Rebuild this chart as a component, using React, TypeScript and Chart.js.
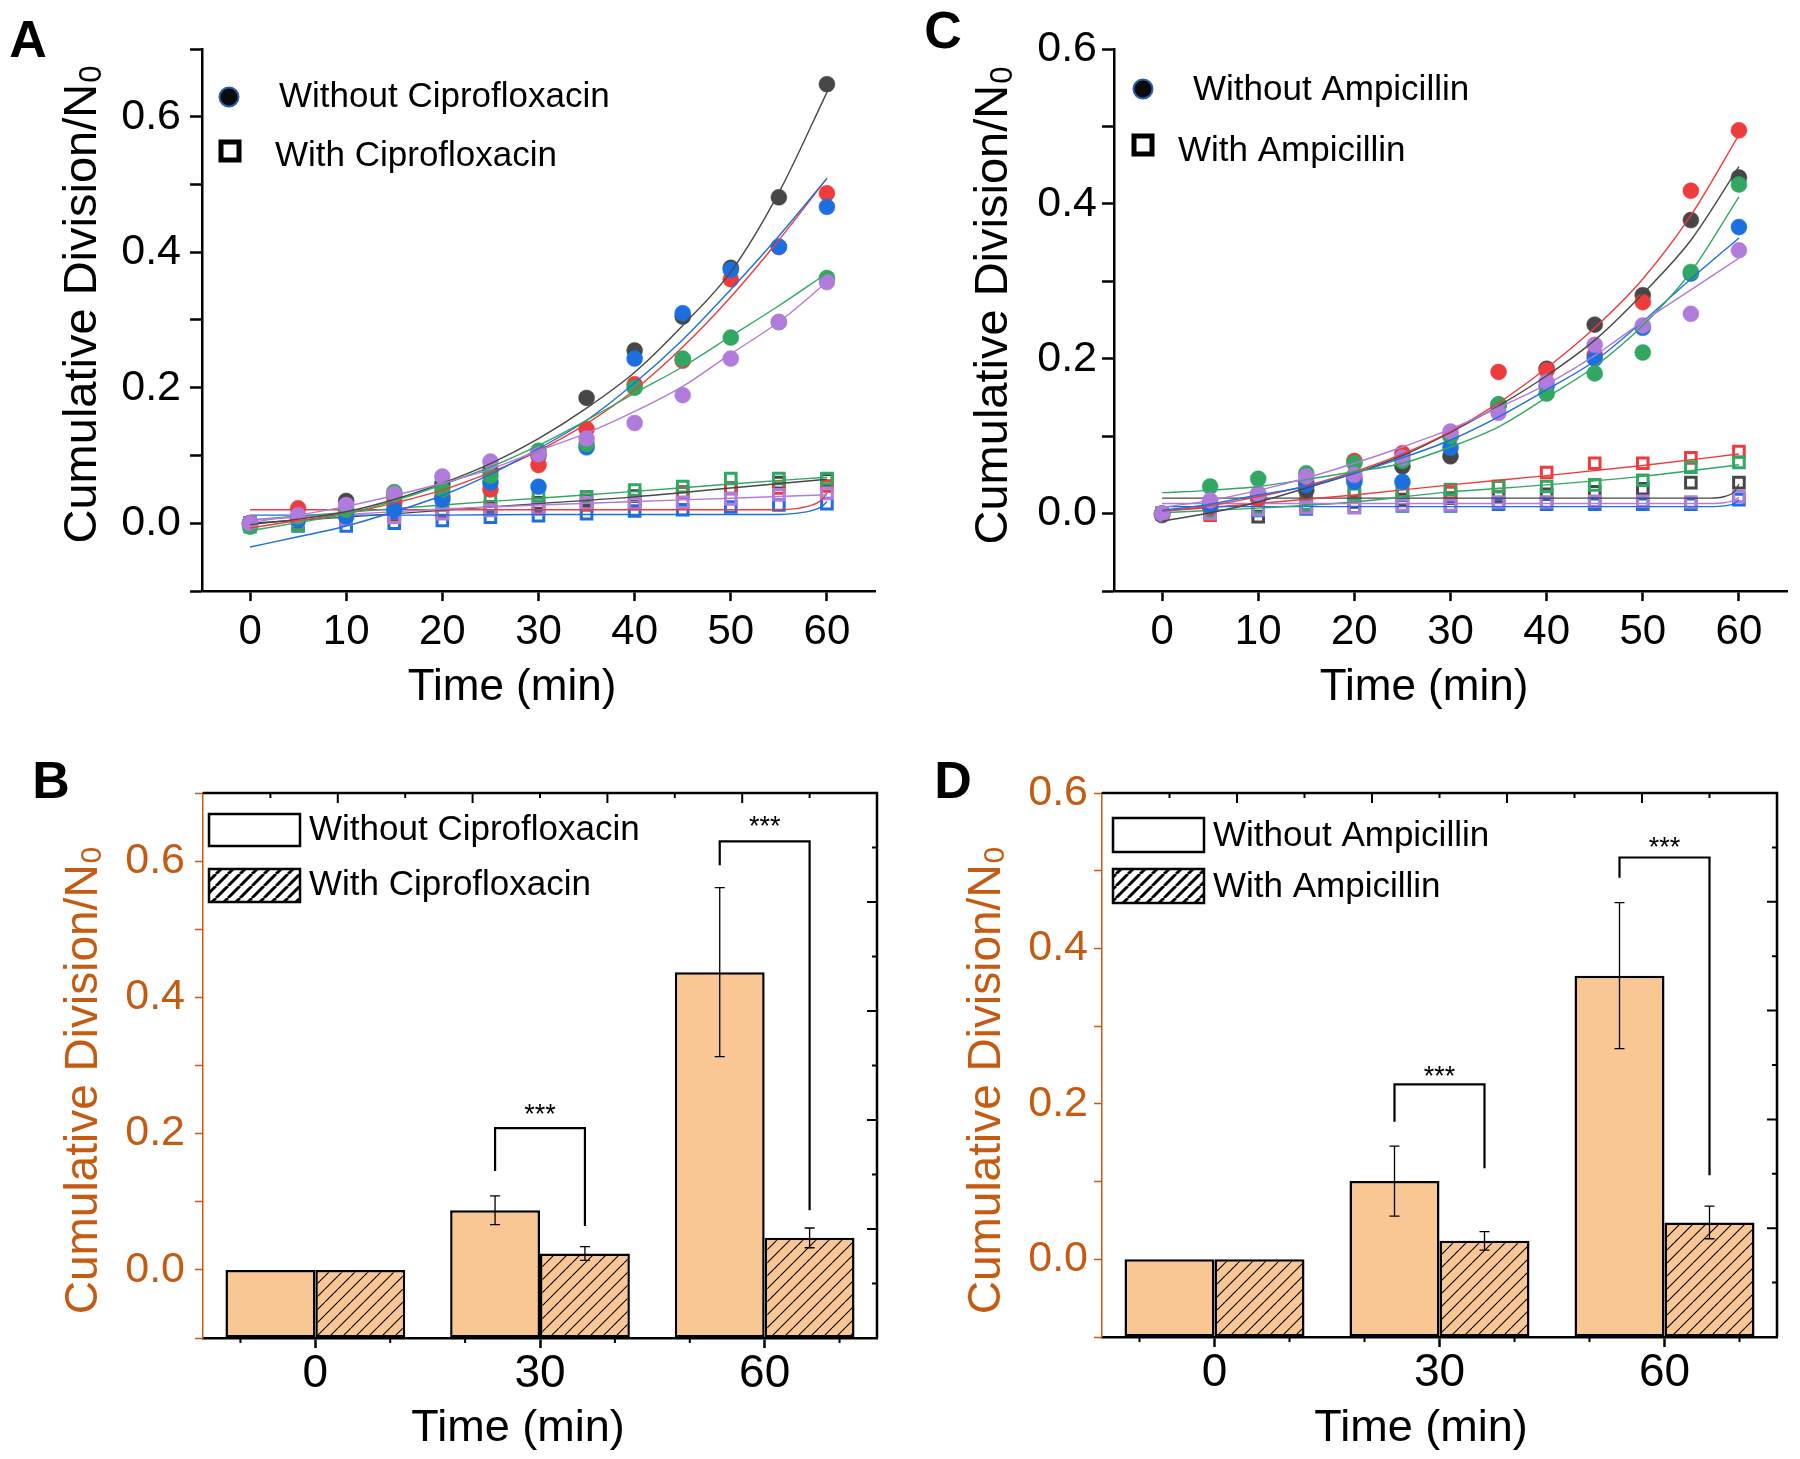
import React, { useEffect, useRef } from 'react';
import { Chart, registerables } from 'chart.js';

Chart.register(...registerables);

const FONT = "'Liberation Sans', Arial, Helvetica, sans-serif";
Chart.defaults.font.family = FONT;

const ORANGE = '#c55a11';
const BAR_FILL = '#f8c794';
const SERIES_COLORS = ['#474747', '#ee3b3b', '#1c6fdf', '#30a862', '#b07bdb'];

// ---------- shared axes ----------
const TIME = [0, 5, 10, 15, 20, 25, 30, 35, 40, 45, 50, 55, 60];
const TIME_TICKS = [0, 10, 20, 30, 40, 50, 60];
const Y_TICKS_07 = [-0.1, 0, 0.1, 0.2, 0.3, 0.4, 0.5, 0.6, 0.7];
const Y_TICKS_06 = [-0.1, 0, 0.1, 0.2, 0.3, 0.4, 0.5, 0.6];

// ---------- Panel A : without ciprofloxacin (filled circles) ----------
const A_NO_BLACK = [0.0, 0.008, 0.033, 0.04, 0.058, 0.078, 0.1, 0.185, 0.255, 0.305, 0.377, 0.481, 0.648];
const A_NO_RED = [0.0, 0.022, 0.017, 0.03, 0.04, 0.05, 0.086, 0.139, 0.205, 0.24, 0.36, 0.408, 0.487];
const A_NO_BLUE = [0.0, 0.005, 0.01, 0.02, 0.035, 0.06, 0.054, 0.112, 0.243, 0.31, 0.374, 0.408, 0.467];
const A_NO_GREEN = [-0.005, 0.01, 0.02, 0.046, 0.05, 0.07, 0.107, 0.117, 0.2, 0.243, 0.274, 0.297, 0.362];
const A_NO_PURPLE = [0.0, 0.012, 0.027, 0.043, 0.069, 0.091, 0.102, 0.125, 0.148, 0.189, 0.243, 0.297, 0.356];
// with ciprofloxacin (open squares)
const A_W_BLACK = [0.0, 0.002, 0.006, 0.012, 0.018, 0.024, 0.03, 0.034, 0.04, 0.046, 0.052, 0.06, 0.064];
const A_W_RED = [0.0, 0.004, 0.01, 0.014, 0.018, 0.02, 0.024, 0.027, 0.032, 0.045, 0.051, 0.052, 0.055];
const A_W_BLUE = [0.0, -0.004, -0.004, 0.0, 0.004, 0.009, 0.011, 0.014, 0.018, 0.02, 0.024, 0.027, 0.029];
const A_W_GREEN = [-0.005, -0.003, 0.015, 0.027, 0.027, 0.034, 0.041, 0.039, 0.049, 0.054, 0.066, 0.066, 0.066];
const A_W_PURPLE = [0.0, 0.005, 0.006, 0.009, 0.014, 0.019, 0.021, 0.029, 0.029, 0.031, 0.036, 0.042, 0.044];
// fitted curves (read at TIME)
const A_FIT_BLACK = [-0.002, 0.006, 0.017, 0.035, 0.059, 0.088, 0.125, 0.17, 0.223, 0.292, 0.371, 0.488, 0.636];
const A_FIT_RED = [-0.007, 0.004, 0.014, 0.03, 0.049, 0.075, 0.107, 0.147, 0.197, 0.26, 0.334, 0.418, 0.509];
const A_FIT_BLUE = [-0.035, -0.02, -0.004, 0.017, 0.041, 0.072, 0.11, 0.152, 0.207, 0.271, 0.345, 0.424, 0.509];
const A_FIT_GREEN = [-0.011, 0.001, 0.014, 0.033, 0.057, 0.083, 0.115, 0.152, 0.192, 0.231, 0.276, 0.321, 0.369];
const A_FIT_PURPLE = [0.001, 0.012, 0.025, 0.041, 0.059, 0.08, 0.107, 0.133, 0.165, 0.202, 0.25, 0.297, 0.356];
// fitted curves of squares
const A_SQFIT_X = [0, 10, 20, 30, 40, 50, 60];
const A_SQFIT_BLACK = [0.0, 0.009, 0.019, 0.029, 0.039, 0.052, 0.065];
const A_SQFIT_GREEN = [0.005, 0.016, 0.027, 0.037, 0.047, 0.058, 0.068];
const A_SQFIT_PURPLE = [0.005, 0.013, 0.021, 0.027, 0.032, 0.037, 0.042];
const A_HOOK_X = [0, 10, 20, 30, 40, 50, 55, 57, 58.5, 59.5, 60];
const A_SQFIT_RED = [0.02, 0.02, 0.02, 0.02, 0.02, 0.02, 0.02, 0.022, 0.027, 0.035, 0.045];
const A_SQFIT_BLUE = [0.012, 0.012, 0.012, 0.013, 0.013, 0.013, 0.013, 0.015, 0.019, 0.025, 0.032];

// ---------- Panel C : without ampicillin (filled circles) ----------
const C_NO_BLACK = [-0.002, 0.01, 0.02, 0.03, 0.045, 0.061, 0.074, 0.14, 0.187, 0.244, 0.282, 0.379, 0.434];
const C_NO_RED = [0.0, 0.008, 0.02, 0.04, 0.068, 0.078, 0.1, 0.183, 0.185, 0.205, 0.273, 0.417, 0.495];
const C_NO_BLUE = [0.0, 0.01, 0.025, 0.037, 0.041, 0.041, 0.085, 0.141, 0.165, 0.2, 0.24, 0.31, 0.37];
const C_NO_GREEN = [0.0, 0.035, 0.045, 0.052, 0.065, 0.068, 0.1, 0.141, 0.155, 0.181, 0.208, 0.312, 0.425];
const C_NO_PURPLE = [0.0, 0.017, 0.026, 0.048, 0.05, 0.072, 0.106, 0.13, 0.17, 0.218, 0.243, 0.258, 0.34];
// with ampicillin (open squares)
const C_W_BLACK = [0.0, 0.004, -0.004, 0.01, 0.015, 0.018, 0.02, 0.022, 0.025, 0.028, 0.032, 0.04, 0.04];
const C_W_RED = [0.0, -0.002, 0.005, 0.027, 0.027, 0.027, 0.027, 0.035, 0.053, 0.065, 0.065, 0.072, 0.08];
const C_W_BLUE = [0.0, 0.002, 0.004, 0.006, 0.008, 0.01, 0.01, 0.012, 0.012, 0.012, 0.012, 0.012, 0.018];
const C_W_GREEN = [0.0, 0.003, 0.008, 0.012, 0.025, 0.027, 0.031, 0.035, 0.035, 0.037, 0.043, 0.06, 0.066];
const C_W_PURPLE = [0.0, 0.0, 0.005, 0.008, 0.008, 0.011, 0.011, 0.015, 0.015, 0.016, 0.016, 0.015, 0.022];
// fitted curves
const C_FIT_BLACK = [-0.01, 0.001, 0.015, 0.033, 0.052, 0.075, 0.105, 0.139, 0.178, 0.224, 0.284, 0.353, 0.448];
const C_FIT_RED = [0.003, 0.01, 0.022, 0.036, 0.054, 0.077, 0.106, 0.143, 0.188, 0.24, 0.303, 0.385, 0.489];
const C_FIT_BLUE = [0.004, 0.012, 0.024, 0.035, 0.052, 0.072, 0.095, 0.125, 0.16, 0.197, 0.248, 0.303, 0.356];
const C_FIT_GREEN = [0.027, 0.03, 0.035, 0.044, 0.054, 0.065, 0.086, 0.112, 0.15, 0.19, 0.243, 0.312, 0.409];
const C_FIT_PURPLE = [0.008, 0.017, 0.03, 0.046, 0.065, 0.086, 0.109, 0.137, 0.167, 0.204, 0.248, 0.289, 0.33];
const C_SQFIT_X = [0, 10, 20, 30, 40, 50, 60];
const C_SQFIT_RED = [0.003, 0.013, 0.024, 0.037, 0.049, 0.062, 0.077];
const C_SQFIT_GREEN = [0.001, 0.007, 0.015, 0.028, 0.037, 0.048, 0.063];
const C_HOOK_X = [0, 10, 20, 30, 40, 50, 57, 58.5, 59.5, 60];
const C_SQFIT_BLACK = [0.02, 0.02, 0.02, 0.02, 0.02, 0.02, 0.02, 0.022, 0.028, 0.038];
const C_SQFIT_PURPLE = [0.013, 0.013, 0.013, 0.013, 0.013, 0.013, 0.013, 0.014, 0.017, 0.021];
const C_SQFIT_BLUE = [0.009, 0.009, 0.009, 0.009, 0.009, 0.009, 0.009, 0.01, 0.013, 0.018];

// ---------- Panel B : bars, ciprofloxacin ----------
const BAR_CATS = ['0', '30', '60'];
const B_WITHOUT = [0, 0.0875, 0.437];
const B_WITHOUT_ERR = [0, 0.021, 0.124];
const B_WITH = [0, 0.024, 0.047];
const B_WITH_ERR = [0, 0.01, 0.0145];
const B_SIG_CATS = [1, 2];
const B_SIG_LEFT = [0.145, 0.594];
const B_SIG_TOP = [0.208, 0.629];
const B_SIG_RIGHT = [0.0645, 0.0875];
const B_SIG_STAR = [0.2375, 0.66];

// ---------- Panel D : bars, ampicillin ----------
const D_WITHOUT = [0, 0.1006, 0.365];
const D_WITHOUT_ERR = [0, 0.045, 0.094];
const D_WITH = [0, 0.0237, 0.0474];
const D_WITH_ERR = [0, 0.012, 0.021];
const D_SIG_CATS = [1, 2];
const D_SIG_LEFT = [0.177, 0.4908];
const D_SIG_TOP = [0.225, 0.517];
const D_SIG_RIGHT = [0.117, 0.108];
const D_SIG_STAR = [0.244, 0.5376];

// ---------- helpers ----------
type Area = { left: number; right: number; top: number; bottom: number };

const toXY = (xs: number[], ys: number[]) => xs.map((x, i) => ({ x, y: ys[i] }));

function yTickLabel(v: number) {
  const k = Math.round(v * 10);
  if (k < 0 || k % 2 !== 0) return '';
  return (k / 10).toFixed(1);
}

function fixTicks(values: number[]) {
  return (scale: any) => {
    scale.ticks = values.map((v) => ({ value: v }));
  };
}

function drawText(ctx: CanvasRenderingContext2D, text: string, x: number, y: number, font: string, color: string, align: CanvasTextAlign = 'left', baseline: CanvasTextBaseline = 'middle') {
  ctx.save();
  ctx.font = font;
  ctx.fillStyle = color;
  ctx.textAlign = align;
  ctx.textBaseline = baseline;
  ctx.fillText(text, x, y);
  ctx.restore();
}

function drawYTitle(ctx: CanvasRenderingContext2D, cx: number, cy: number, size: number, color: string) {
  const main = 'Cumulative Division/N';
  const mainFont = `${size}px ${FONT}`;
  const subFont = `${Math.round(size * 0.66)}px ${FONT}`;
  ctx.save();
  ctx.translate(cx, cy);
  ctx.rotate(-Math.PI / 2);
  ctx.font = mainFont;
  const w1 = ctx.measureText(main).width;
  ctx.font = subFont;
  const w2 = ctx.measureText('0').width;
  const start = -(w1 + w2) / 2;
  ctx.fillStyle = color;
  ctx.textAlign = 'left';
  ctx.textBaseline = 'middle';
  ctx.font = mainFont;
  ctx.fillText(main, start, 0);
  ctx.font = subFont;
  ctx.fillText('0', start + w1 + 1, size * 0.2);
  ctx.restore();
}

function makeHatch(ctx: CanvasRenderingContext2D, size: number, bg: string, lw: number) {
  const c = document.createElement('canvas');
  c.width = size;
  c.height = size;
  const g = c.getContext('2d') as CanvasRenderingContext2D;
  g.fillStyle = bg;
  g.fillRect(0, 0, size, size);
  g.strokeStyle = '#000';
  g.lineWidth = lw;
  g.beginPath();
  for (const k of [-1, 0, 1]) {
    g.moveTo(k * size, size);
    g.lineTo(k * size + size, 0);
  }
  g.stroke();
  return ctx.createPattern(c, 'repeat');
}

// ---------- scatter panels (A, C) ----------
type ScatterSpec = {
  id: string;
  w: number;
  h: number;
  area: Area;
  yMax: number;
  yTicks: number[];
  yTickPad: number;
  circles: number[][];
  squares: number[][];
  fits: { x: number[]; y: number[] }[];
  sqFits: { x: number[]; y: number[] }[];
  letter: [string, number, number];
  yTitle: [number, number];
  xTitle: [number, number];
  legendLabels: [string, string];
  legendCircle: [number, number];
  legendText1: [number, number];
  legendSquare: [number, number];
  legendText2: [number, number];
};

function lineDataset(f: { x: number[]; y: number[] }, i: number, order: number) {
  return {
    data: toXY(f.x, f.y),
    showLine: true,
    borderColor: SERIES_COLORS[i],
    borderWidth: 1.4,
    pointRadius: 0,
    fill: false,
    cubicInterpolationMode: 'monotone',
    order,
  };
}

function buildScatter(spec: ScatterSpec) {
  return (canvas: HTMLCanvasElement) => {
    const datasets: any[] = [];
    spec.squares.forEach((ys, i) =>
      datasets.push({
        data: toXY(TIME, ys),
        showLine: false,
        pointStyle: 'rect',
        pointRadius: 7.5,
        pointBorderWidth: 3,
        pointBorderColor: SERIES_COLORS[i],
        pointBackgroundColor: 'rgba(255,255,255,0)',
        borderColor: SERIES_COLORS[i],
        order: 50 - i,
      })
    );
    spec.sqFits.forEach((f, i) => datasets.push(lineDataset(f, i, 40 - i)));
    spec.circles.forEach((ys, i) =>
      datasets.push({
        data: toXY(TIME, ys),
        showLine: false,
        pointStyle: 'circle',
        pointRadius: 8,
        pointBorderWidth: 0.5,
        pointBorderColor: SERIES_COLORS[i],
        pointBackgroundColor: SERIES_COLORS[i],
        borderColor: SERIES_COLORS[i],
        order: 30 - i,
      })
    );
    spec.fits.forEach((f, i) => datasets.push(lineDataset(f, i, 20 - i)));

    const decor = {
      id: 'decor' + spec.id,
      afterDraw(chart: any) {
        const ctx: CanvasRenderingContext2D = chart.ctx;
        drawText(ctx, spec.letter[0], spec.letter[1], spec.letter[2], `bold 52px ${FONT}`, '#000', 'center', 'alphabetic');
        drawYTitle(ctx, spec.yTitle[0], spec.yTitle[1], 47, '#000');
        drawText(ctx, 'Time (min)', spec.xTitle[0], spec.xTitle[1], `44px ${FONT}`, '#000', 'center');
        // legend
        ctx.save();
        ctx.beginPath();
        ctx.arc(spec.legendCircle[0], spec.legendCircle[1], 9.5, 0, Math.PI * 2);
        ctx.fillStyle = '#0b0b0b';
        ctx.fill();
        ctx.lineWidth = 2;
        ctx.strokeStyle = '#2a5db0';
        ctx.stroke();
        ctx.lineWidth = 5;
        ctx.strokeStyle = '#000';
        ctx.fillStyle = '#fff';
        ctx.beginPath();
        ctx.rect(spec.legendSquare[0] - 9, spec.legendSquare[1] - 9, 18, 18);
        ctx.fill();
        ctx.stroke();
        ctx.restore();
        drawText(ctx, spec.legendLabels[0], spec.legendText1[0], spec.legendText1[1], `35px ${FONT}`, '#000');
        drawText(ctx, spec.legendLabels[1], spec.legendText2[0], spec.legendText2[1], `35px ${FONT}`, '#000');
      },
    };

    return {
      type: 'line',
      data: { datasets },
      options: {
        responsive: false,
        animation: false,
        devicePixelRatio: 1,
        events: [],
        layout: { padding: { left: 0, top: spec.area.top, right: spec.w - spec.area.right, bottom: 0 } },
        plugins: { legend: { display: false }, tooltip: { enabled: false } },
        scales: {
          x: {
            type: 'linear',
            min: -5,
            max: 65,
            afterBuildTicks: fixTicks(TIME_TICKS),
            afterFit: (s: any) => {
              s.height = spec.h - spec.area.bottom;
            },
            ticks: { font: { family: FONT, size: 42, lineHeight: 1 }, color: '#000', padding: 10, maxRotation: 0, autoSkip: false, callback: (v: any) => String(v) },
            grid: { drawOnChartArea: false, drawTicks: true, tickLength: 10, tickWidth: 2.5, tickColor: '#000' },
            border: { display: true, color: '#000', width: 2.5 },
          },
          y: {
            type: 'linear',
            min: -0.1,
            max: spec.yMax,
            afterBuildTicks: fixTicks(spec.yTicks),
            afterFit: (s: any) => {
              s.width = spec.area.left;
            },
            ticks: { font: { family: FONT, size: 43, lineHeight: 1 }, color: '#000', padding: spec.yTickPad, autoSkip: false, callback: (v: any) => yTickLabel(Number(v)) },
            grid: { drawOnChartArea: false, drawTicks: true, tickLength: 12, tickWidth: 2.5, tickColor: '#000' },
            border: { display: true, color: '#000', width: 2.5 },
          },
        },
      },
      plugins: [decor],
    };
  };
}

// ---------- bar panels (B, D) ----------
type BarSpec = {
  id: string;
  w: number;
  h: number;
  area: Area;
  yMax: number;
  yTicks: number[];
  yTickPad: number;
  without: number[];
  withAb: number[];
  withoutErr: number[];
  withErr: number[];
  sigCats: number[];
  sigLeft: number[];
  sigTop: number[];
  sigRight: number[];
  sigStar: number[];
  letter: [string, number, number];
  yTitle: [number, number];
  xTitle: [number, number];
  legendLabels: [string, string];
  legendBox1: [number, number, number, number];
  legendBox2: [number, number, number, number];
  legendTextX: number;
  legendTextY: [number, number];
};

function buildBars(spec: BarSpec) {
  return (canvas: HTMLCanvasElement) => {
    const ctx0 = canvas.getContext('2d') as CanvasRenderingContext2D;
    const barHatch = makeHatch(ctx0, 13, BAR_FILL, 1.1);
    const legendHatch = makeHatch(ctx0, 12, '#ffffff', 3);

    const decor = {
      id: 'bars' + spec.id,
      afterDraw(chart: any) {
        const ctx: CanvasRenderingContext2D = chart.ctx;
        const a = chart.chartArea;
        const ys = chart.scales.y;
        const xs = chart.scales.x;
        ctx.save();
        // frame (top + right) with inward ticks
        ctx.strokeStyle = '#000';
        ctx.lineWidth = 2.5;
        ctx.beginPath();
        ctx.moveTo(a.left, a.top);
        ctx.lineTo(a.right, a.top);
        ctx.lineTo(a.right, a.bottom);
        ctx.stroke();
        ctx.lineWidth = 2;
        ctx.beginPath();
        for (let k = 1; k < 10; k++) {
          const len = k % 2 === 0 ? 10 : 5;
          const x = a.left + ((a.right - a.left) * k) / 10;
          ctx.moveTo(x, a.top);
          ctx.lineTo(x, a.top + len);
          const y = a.top + ((a.bottom - a.top) * k) / 10;
          ctx.moveTo(a.right, y);
          ctx.lineTo(a.right - len, y);
        }
        const step = xs.getPixelForValue(1) - xs.getPixelForValue(0);
        for (let i = 0; i < BAR_CATS.length; i++) {
          const c = xs.getPixelForValue(i);
          for (const d of [-1, 1]) {
            const x = c + (d * step) / 3;
            ctx.moveTo(x, a.bottom);
            ctx.lineTo(x, a.bottom + 5);
          }
        }
        ctx.stroke();

        // error bars
        const errs = [spec.withoutErr, spec.withErr];
        const vals = [spec.without, spec.withAb];
        ctx.lineWidth = 1.3;
        ctx.beginPath();
        errs.forEach((err, di) => {
          const meta = chart.getDatasetMeta(di);
          meta.data.forEach((bar: any, j: number) => {
            const e = err[j];
            if (!e) return;
            const v = vals[di][j];
            const y1 = ys.getPixelForValue(v + e);
            const y2 = ys.getPixelForValue(v - e);
            ctx.moveTo(bar.x, y1);
            ctx.lineTo(bar.x, y2);
            ctx.moveTo(bar.x - 5, y1);
            ctx.lineTo(bar.x + 5, y1);
            ctx.moveTo(bar.x - 5, y2);
            ctx.lineTo(bar.x + 5, y2);
          });
        });
        ctx.stroke();

        // significance brackets
        const m0 = chart.getDatasetMeta(0);
        const m1 = chart.getDatasetMeta(1);
        ctx.lineWidth = 2.2;
        ctx.beginPath();
        spec.sigCats.forEach((c, k) => {
          const xl = m0.data[c].x;
          const xr = m1.data[c].x;
          const yt = ys.getPixelForValue(spec.sigTop[k]);
          ctx.moveTo(xl, ys.getPixelForValue(spec.sigLeft[k]));
          ctx.lineTo(xl, yt);
          ctx.lineTo(xr, yt);
          ctx.lineTo(xr, ys.getPixelForValue(spec.sigRight[k]));
        });
        ctx.stroke();
        ctx.restore();
        spec.sigCats.forEach((c, k) => {
          const xm = (m0.data[c].x + m1.data[c].x) / 2;
          drawText(ctx, '***', xm, ys.getPixelForValue(spec.sigStar[k]) + 15, `27px ${FONT}`, '#000', 'center', 'alphabetic');
        });

        // legend
        ctx.save();
        ctx.lineWidth = 2.5;
        ctx.strokeStyle = '#000';
        const [x1, y1, w1, h1] = spec.legendBox1;
        ctx.fillStyle = '#fff';
        ctx.fillRect(x1, y1, w1, h1);
        ctx.strokeRect(x1, y1, w1, h1);
        const [x2, y2, w2, h2] = spec.legendBox2;
        ctx.fillStyle = legendHatch as any;
        ctx.fillRect(x2, y2, w2, h2);
        ctx.strokeRect(x2, y2, w2, h2);
        ctx.restore();
        drawText(ctx, spec.legendLabels[0], spec.legendTextX, spec.legendTextY[0], `35px ${FONT}`, '#000');
        drawText(ctx, spec.legendLabels[1], spec.legendTextX, spec.legendTextY[1], `35px ${FONT}`, '#000');

        // titles and panel letter
        drawText(ctx, spec.letter[0], spec.letter[1], spec.letter[2], `bold 52px ${FONT}`, '#000', 'center', 'alphabetic');
        drawYTitle(ctx, spec.yTitle[0], spec.yTitle[1], 46, ORANGE);
        drawText(ctx, 'Time (min)', spec.xTitle[0], spec.xTitle[1], `45px ${FONT}`, '#000', 'center');
      },
    };

    const common = {
      borderColor: '#000',
      borderWidth: 2.5,
      borderSkipped: false,
      base: -0.1,
      categoryPercentage: 0.8,
      barPercentage: 1.0,
    };

    return {
      type: 'bar',
      data: {
        labels: BAR_CATS,
        datasets: [
          { ...common, label: spec.legendLabels[0], data: spec.without, backgroundColor: BAR_FILL },
          { ...common, label: spec.legendLabels[1], data: spec.withAb, backgroundColor: barHatch },
        ],
      },
      options: {
        responsive: false,
        animation: false,
        devicePixelRatio: 1,
        events: [],
        layout: { padding: { left: 0, top: spec.area.top, right: spec.w - spec.area.right, bottom: 0 } },
        plugins: { legend: { display: false }, tooltip: { enabled: false } },
        scales: {
          x: {
            type: 'category',
            offset: true,
            afterFit: (s: any) => {
              s.height = spec.h - spec.area.bottom;
            },
            ticks: { font: { family: FONT, size: 46, lineHeight: 1 }, color: '#000', padding: 3, maxRotation: 0 },
            grid: { offset: false, drawOnChartArea: false, drawTicks: true, tickLength: 10, tickWidth: 2.5, tickColor: '#000' },
            border: { display: true, color: '#000', width: 2.5 },
          },
          y: {
            type: 'linear',
            min: -0.1,
            max: spec.yMax,
            afterBuildTicks: fixTicks(spec.yTicks),
            afterFit: (s: any) => {
              s.width = spec.area.left;
            },
            ticks: { font: { family: FONT, size: 43, lineHeight: 1 }, color: ORANGE, padding: spec.yTickPad, autoSkip: false, callback: (v: any) => yTickLabel(Number(v)) },
            grid: { drawOnChartArea: false, drawTicks: true, tickLength: 8, tickWidth: 1.5, tickColor: ORANGE },
            border: { display: true, color: ORANGE, width: 1.5 },
          },
        },
      },
      plugins: [decor],
    };
  };
}

// ---------- panel specs ----------
const BUILD_A = buildScatter({
  id: 'A',
  w: 900,
  h: 730,
  area: { left: 202, right: 875, top: 49, bottom: 591 },
  yMax: 0.7,
  yTicks: Y_TICKS_07,
  yTickPad: 9,
  circles: [A_NO_BLACK, A_NO_RED, A_NO_BLUE, A_NO_GREEN, A_NO_PURPLE],
  squares: [A_W_BLACK, A_W_RED, A_W_BLUE, A_W_GREEN, A_W_PURPLE],
  fits: [
    { x: TIME, y: A_FIT_BLACK },
    { x: TIME, y: A_FIT_RED },
    { x: TIME, y: A_FIT_BLUE },
    { x: TIME, y: A_FIT_GREEN },
    { x: TIME, y: A_FIT_PURPLE },
  ],
  sqFits: [
    { x: A_SQFIT_X, y: A_SQFIT_BLACK },
    { x: A_HOOK_X, y: A_SQFIT_RED },
    { x: A_HOOK_X, y: A_SQFIT_BLUE },
    { x: A_SQFIT_X, y: A_SQFIT_GREEN },
    { x: A_SQFIT_X, y: A_SQFIT_PURPLE },
  ],
  letter: ['A', 28, 57],
  yTitle: [83, 305],
  xTitle: [512, 688],
  legendLabels: ['Without Ciprofloxacin', 'With Ciprofloxacin'],
  legendCircle: [229, 97],
  legendText1: [279, 97],
  legendSquare: [230, 151],
  legendText2: [275, 156],
});

const BUILD_C = buildScatter({
  id: 'C',
  w: 900,
  h: 730,
  area: { left: 214, right: 887, top: 49, bottom: 591 },
  yMax: 0.6,
  yTicks: Y_TICKS_06,
  yTickPad: 5,
  circles: [C_NO_BLACK, C_NO_RED, C_NO_BLUE, C_NO_GREEN, C_NO_PURPLE],
  squares: [C_W_BLACK, C_W_RED, C_W_BLUE, C_W_GREEN, C_W_PURPLE],
  fits: [
    { x: TIME, y: C_FIT_BLACK },
    { x: TIME, y: C_FIT_RED },
    { x: TIME, y: C_FIT_BLUE },
    { x: TIME, y: C_FIT_GREEN },
    { x: TIME, y: C_FIT_PURPLE },
  ],
  sqFits: [
    { x: C_HOOK_X, y: C_SQFIT_BLACK },
    { x: C_SQFIT_X, y: C_SQFIT_RED },
    { x: C_HOOK_X, y: C_SQFIT_BLUE },
    { x: C_SQFIT_X, y: C_SQFIT_GREEN },
    { x: C_HOOK_X, y: C_SQFIT_PURPLE },
  ],
  letter: ['C', 43, 48],
  yTitle: [94, 306],
  xTitle: [524, 688],
  legendLabels: ['Without Ampicillin', 'With Ampicillin'],
  legendCircle: [243, 89],
  legendText1: [293, 90],
  legendSquare: [243, 145],
  legendText2: [278, 151],
});

const BUILD_B = buildBars({
  id: 'B',
  w: 900,
  h: 729,
  area: { left: 203, right: 877, top: 63, bottom: 608 },
  yMax: 0.7,
  yTicks: Y_TICKS_07,
  yTickPad: 10,
  without: B_WITHOUT,
  withAb: B_WITH,
  withoutErr: B_WITHOUT_ERR,
  withErr: B_WITH_ERR,
  sigCats: B_SIG_CATS,
  sigLeft: B_SIG_LEFT,
  sigTop: B_SIG_TOP,
  sigRight: B_SIG_RIGHT,
  sigStar: B_SIG_STAR,
  letter: ['B', 51, 68],
  yTitle: [84, 351],
  xTitle: [518, 699],
  legendLabels: ['Without Ciprofloxacin', 'With Ciprofloxacin'],
  legendBox1: [209, 84, 91, 32],
  legendBox2: [209, 139, 91, 33],
  legendTextX: 309,
  legendTextY: [100, 155],
});

const BUILD_D = buildBars({
  id: 'D',
  w: 900,
  h: 729,
  area: { left: 202, right: 877, top: 63, bottom: 607 },
  yMax: 0.6,
  yTicks: Y_TICKS_06,
  yTickPad: 6,
  without: D_WITHOUT,
  withAb: D_WITH,
  withoutErr: D_WITHOUT_ERR,
  withErr: D_WITH_ERR,
  sigCats: D_SIG_CATS,
  sigLeft: D_SIG_LEFT,
  sigTop: D_SIG_TOP,
  sigRight: D_SIG_RIGHT,
  sigStar: D_SIG_STAR,
  letter: ['D', 53, 68],
  yTitle: [87, 351],
  xTitle: [521, 699],
  legendLabels: ['Without Ampicillin', 'With Ampicillin'],
  legendBox1: [213, 88, 91, 34],
  legendBox2: [213, 139, 91, 34],
  legendTextX: 313,
  legendTextY: [106, 157],
});

function ChartPanel({ x, y, w, h, build }: { x: number; y: number; w: number; h: number; build: (c: HTMLCanvasElement) => any }) {
  const ref = useRef<HTMLCanvasElement | null>(null);
  useEffect(() => {
    const canvas = ref.current;
    if (!canvas) return;
    const chart = new Chart(canvas, build(canvas));
    return () => chart.destroy();
  }, [build]);
  return <canvas ref={ref} width={w} height={h} style={{ position: 'absolute', left: x, top: y, width: w, height: h }} />;
}

export default function App() {
  return (
    <div style={{ position: 'fixed', left: 0, top: 0, width: 1800, height: 1459, background: '#ffffff', overflow: 'hidden' }}>
      <ChartPanel x={0} y={0} w={900} h={730} build={BUILD_A} />
      <ChartPanel x={900} y={0} w={900} h={730} build={BUILD_C} />
      <ChartPanel x={0} y={730} w={900} h={729} build={BUILD_B} />
      <ChartPanel x={900} y={730} w={900} h={729} build={BUILD_D} />
    </div>
  );
}
